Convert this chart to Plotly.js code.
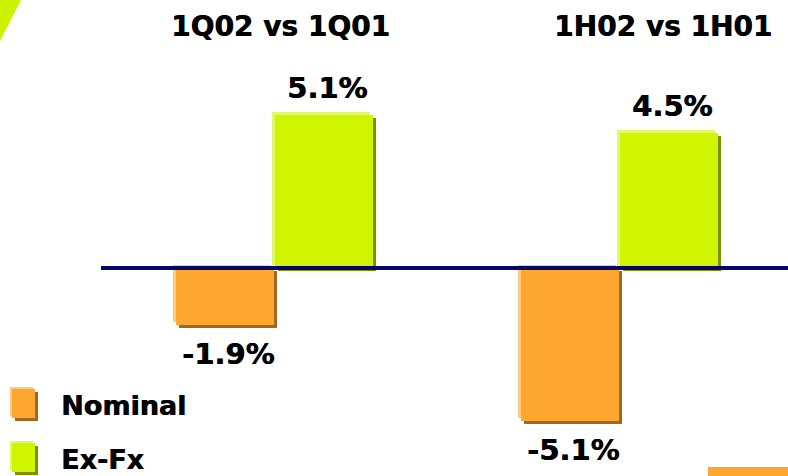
<!DOCTYPE html>
<html>
<head>
<meta charset="utf-8">
<script src="https://cdn.plot.ly/plotly-3.0.1.min.js"></script>
<style>
  html, body { margin: 0; padding: 0; background: #ffffff; }
  #chart { width: 788px; height: 476px; }
</style>
</head>
<body>
<div id="chart"></div>
<script>
// Growth comparison: nominal vs ex-FX, two periods
const groups = ['1Q02 vs 1Q01', '1H02 vs 1H01'];
const seriesNames = ['Nominal', 'Ex-Fx'];
const nominal = [-1.9, -5.1];
const exFx = [5.1, 4.5];

// ---- layout constants (pixels) ----
const W = 788, H = 476;
const ZERO_Y = 268;          // pixel row of the zero line
const PX_PER_PCT = 30;       // vertical scale
const GROUP_STEP = 345;      // pixels between the two groups
const GROUP0_X = 275;        // boundary between the two bars of the first group
const BAR_W = 98;
const BEVEL = 3;

const palette = {
  Nominal: { main: '#FDA731', light: '#FFCB7E', dark: '#A3671F' },
  'Ex-Fx': { main: '#D0F500', light: '#E2F86A', dark: '#7D9000' }
};
const navy = '#06066A';

const u = 1 / GROUP_STEP;                 // x units per pixel
const yu = 1 / PX_PER_PCT;                // y units per pixel
const xRange = [-GROUP0_X * u, (W - GROUP0_X) * u];
const yMax = ZERO_Y * yu, yMin = -(H - ZERO_Y) * yu;

const series = [
  { name: seriesNames[0], values: nominal, offPx: -(BAR_W + 1) },
  { name: seriesNames[1], values: exFx, offPx: 0 }
];
const xs = groups.map((g, i) => i);

// three layers per series: dark shadow (down-right), light bevel (up-left), face
const layers = [
  { key: 'dark', dx: BEVEL, axis: 'y' },
  { key: 'light', dx: -BEVEL, axis: 'y2' },
  { key: 'main', dx: 0, axis: 'y3' }
];

const data = [];
layers.forEach(l => {
  series.forEach(s => {
    data.push({
      type: 'bar',
      name: s.name,
      x: xs,
      y: s.values,
      yaxis: l.axis,
      offset: (s.offPx + l.dx) * u,
      width: BAR_W * u,
      marker: { color: palette[s.name][l.key], line: { width: 0 } },
      hoverinfo: 'skip',
      showlegend: false
    });
  });
});

const px = x => x / W;
const py = y => 1 - y / H;
// heavy bold face, thickened slightly with a tight shadow
const boldFont = {
  family: 'DejaVu Sans, Verdana, sans-serif', size: 28, color: '#000000',
  weight: 'bold', shadow: '0.6px 0px 0px #000000'
};

const annotations = [];
// period headings
const headingX = [280, 663];
groups.forEach((g, i) => {
  annotations.push({
    xref: 'paper', yref: 'paper', x: px(headingX[i]), y: py(26),
    text: g, showarrow: false,
    xanchor: 'center', yanchor: 'middle', font: boldFont
  });
});
// value labels at the bar ends
series.forEach(s => {
  s.values.forEach((v, i) => {
    annotations.push({
      xref: 'x', yref: 'y3',
      x: xs[i] + (s.offPx + BAR_W / 2 + 3) * u, y: v,
      text: v.toFixed(1) + '%', showarrow: false,
      xanchor: 'center', yanchor: v >= 0 ? 'bottom' : 'top',
      yshift: v >= 0 ? 8 : -10,
      font: Object.assign({}, boldFont, { size: 29 })
    });
  });
});

// legend entries
const legendRows = [404, 458];
const shapes = [];
series.forEach((s, i) => {
  const cy = legendRows[i];
  const c = palette[s.name];
  const box = (dx, dy, color) => ({
    type: 'rect', xref: 'paper', yref: 'paper', layer: 'above',
    x0: px(12 + dx), x1: px(35 + dx), y0: py(cy - 15 + dy), y1: py(cy + 14 + dy),
    fillcolor: color, line: { width: 0 }
  });
  shapes.push(box(BEVEL, BEVEL, c.dark), box(-BEVEL + 1, -BEVEL + 1, c.light), box(0, 0, c.main));
  annotations.push({
    xref: 'paper', yref: 'paper', x: px(59), y: py(cy + 1),
    text: s.name, showarrow: false,
    xanchor: 'left', yanchor: 'middle', font: Object.assign({}, boldFont, { size: 27 })
  });
});

// zero line
shapes.push({
  type: 'line', xref: 'paper', yref: 'y3', layer: 'above',
  x0: px(101), x1: 1, y0: 0, y1: 0,
  line: { color: navy, width: 4 }
});
// decorative corner accents
shapes.push({
  type: 'path', xref: 'paper', yref: 'paper', layer: 'above',
  path: `M0,1 L${px(21)},1 L0,${py(41)} Z`,
  fillcolor: '#CCF200', line: { width: 0 }
});
shapes.push({
  type: 'rect', xref: 'paper', yref: 'paper', layer: 'above',
  x0: px(708), x1: 1, y0: 0, y1: py(467),
  fillcolor: palette.Nominal.main, line: { width: 0 }
});

const hiddenAxis = { visible: false, showgrid: false, zeroline: false, fixedrange: true };
const layout = {
  width: W, height: H,
  margin: { l: 0, r: 0, t: 0, b: 0, pad: 0 },
  paper_bgcolor: '#ffffff', plot_bgcolor: '#ffffff',
  barmode: 'overlay',
  showlegend: false,
  xaxis: Object.assign({}, hiddenAxis, { range: xRange }),
  // shadow layer sits BEVEL px lower, bevel layer BEVEL px higher than the face
  yaxis: Object.assign({}, hiddenAxis, { range: [yMin + BEVEL * yu, yMax + BEVEL * yu] }),
  yaxis2: Object.assign({}, hiddenAxis, { overlaying: 'y', range: [yMin - BEVEL * yu, yMax - BEVEL * yu] }),
  yaxis3: Object.assign({}, hiddenAxis, { overlaying: 'y', range: [yMin, yMax] }),
  annotations: annotations,
  shapes: shapes
};

Plotly.newPlot('chart', data, layout, { staticPlot: true, displayModeBar: false });
</script>
</body>
</html>
